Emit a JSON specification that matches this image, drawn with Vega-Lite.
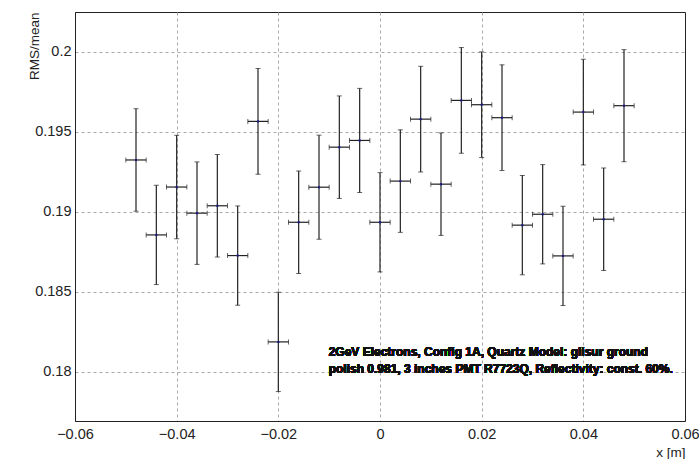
{
  "$schema": "https://vega.github.io/schema/vega-lite/v6.json",
  "width": 610,
  "height": 409,
  "autosize": {"type": "none"},
  "padding": {"left": 75, "top": 12, "right": 14, "bottom": 38},
  "background": "white",
  "config": {
    "view": {"stroke": "#222", "strokeWidth": 1},
    "font": "Liberation Sans",
    "axis": {
      "labelFont": "Liberation Sans",
      "titleFont": "Liberation Sans",
      "labelColor": "#222",
      "titleColor": "#222",
      "labelFontSize": 14.5,
      "titleFontSize": 13.5,
      "titleFontWeight": "normal",
      "domainColor": "#222",
      "ticks": false,
      "tickSize": 0,
      "gridColor": "#a8a8a8",
      "gridDash": [3, 3],
      "gridWidth": 1,
      "format": "~g",
      "labelOverlap": false
    }
  },
  "data": {
    "values": [
      {"x": -0.048, "y": 0.19324, "yerr": 0.0032, "xerr": 0.002},
      {"x": -0.044, "y": 0.18856, "yerr": 0.0031, "xerr": 0.002},
      {"x": -0.040, "y": 0.19155, "yerr": 0.00323, "xerr": 0.002},
      {"x": -0.036, "y": 0.18992, "yerr": 0.0032, "xerr": 0.002},
      {"x": -0.032, "y": 0.19038, "yerr": 0.0032, "xerr": 0.002},
      {"x": -0.028, "y": 0.18727, "yerr": 0.0031, "xerr": 0.002},
      {"x": -0.024, "y": 0.19565, "yerr": 0.0033, "xerr": 0.002},
      {"x": -0.020, "y": 0.18188, "yerr": 0.0031, "xerr": 0.002},
      {"x": -0.016, "y": 0.18935, "yerr": 0.0032, "xerr": 0.002},
      {"x": -0.012, "y": 0.19154, "yerr": 0.00325, "xerr": 0.002},
      {"x": -0.008, "y": 0.19404, "yerr": 0.0032, "xerr": 0.002},
      {"x": -0.004, "y": 0.19446, "yerr": 0.00325, "xerr": 0.002},
      {"x": 0.000, "y": 0.18935, "yerr": 0.0031, "xerr": 0.002},
      {"x": 0.004, "y": 0.19192, "yerr": 0.0032, "xerr": 0.002},
      {"x": 0.008, "y": 0.19579, "yerr": 0.0033, "xerr": 0.002},
      {"x": 0.012, "y": 0.19173, "yerr": 0.0032, "xerr": 0.002},
      {"x": 0.016, "y": 0.19696, "yerr": 0.0033, "xerr": 0.002},
      {"x": 0.020, "y": 0.19669, "yerr": 0.0033, "xerr": 0.002},
      {"x": 0.024, "y": 0.19588, "yerr": 0.0033, "xerr": 0.002},
      {"x": 0.028, "y": 0.18917, "yerr": 0.0031, "xerr": 0.002},
      {"x": 0.032, "y": 0.18985, "yerr": 0.0031, "xerr": 0.002},
      {"x": 0.036, "y": 0.18725, "yerr": 0.0031, "xerr": 0.002},
      {"x": 0.040, "y": 0.19623, "yerr": 0.0033, "xerr": 0.002},
      {"x": 0.044, "y": 0.18954, "yerr": 0.0032, "xerr": 0.002},
      {"x": 0.048, "y": 0.19663, "yerr": 0.0035, "xerr": 0.002}
    ]
  },
  "encoding": {
    "x": {
      "field": "x", "type": "quantitative",
      "scale": {"domain": [-0.06, 0.06], "nice": false, "zero": false},
      "axis": {
        "title": "x [m]",
        "values": [-0.06, -0.04, -0.02, 0, 0.02, 0.04, 0.06],
        "gridOpacity": {"condition": {"test": "abs(datum.value) > 0.059", "value": 0}, "value": 1},
        "labelPadding": 6,
        "labelFlush": false,
        "titleAnchor": "end",
        "titleAlign": "right",
        "titleX": 610,
        "titleY": 31,
        "titleBaseline": "middle"
      }
    },
    "y": {
      "field": "y", "type": "quantitative",
      "scale": {"domain": [0.17694, 0.20248], "nice": false, "zero": false},
      "axis": {
        "title": "RMS/mean",
        "values": [0.18, 0.185, 0.19, 0.195, 0.2],
        "labelPadding": 4,
        "titleAngle": 270,
        "titleAlign": "right",
        "titleBaseline": "middle",
        "titleX": -41,
        "titleY": 0
      }
    }
  },
  "layer": [
    {
      "data": {"values": [{"x": -0.04}, {"x": -0.02}, {"x": 0}, {"x": 0.02}, {"x": 0.04}]},
      "mark": {"type": "rule", "strokeWidth": 1.5, "color": "#000"},
      "encoding": {"y": {"datum": 0.17694}, "y2": {"datum": 0.17769}}
    },
    {
      "data": {"values": [
        {"x": -0.055}, {"x": -0.05}, {"x": -0.045}, {"x": -0.035}, {"x": -0.03}, {"x": -0.025}, {"x": -0.015}, {"x": -0.01}, {"x": -0.005},
        {"x": 0.005}, {"x": 0.01}, {"x": 0.015}, {"x": 0.025}, {"x": 0.03}, {"x": 0.035}, {"x": 0.045}, {"x": 0.05}, {"x": 0.055}
      ]},
      "mark": {"type": "rule", "strokeWidth": 1.5, "color": "#000"},
      "encoding": {"y": {"datum": 0.17694}, "y2": {"datum": 0.177315}}
    },
    {
      "data": {"values": [{"y": 0.18}, {"y": 0.185}, {"y": 0.19}, {"y": 0.195}, {"y": 0.2}]},
      "mark": {"type": "rule", "strokeWidth": 1.5, "color": "#000"},
      "encoding": {"x": {"datum": -0.06}, "x2": {"datum": -0.05646}}
    },
    {
      "data": {"values": [
        {"y": 0.177}, {"y": 0.178}, {"y": 0.179}, {"y": 0.181}, {"y": 0.182}, {"y": 0.183}, {"y": 0.184}, {"y": 0.186}, {"y": 0.187}, {"y": 0.188}, {"y": 0.189},
        {"y": 0.191}, {"y": 0.192}, {"y": 0.193}, {"y": 0.194}, {"y": 0.196}, {"y": 0.197}, {"y": 0.198}, {"y": 0.199}, {"y": 0.201}, {"y": 0.202}
      ]},
      "mark": {"type": "rule", "strokeWidth": 1.5, "color": "#000"},
      "encoding": {"x": {"datum": -0.06}, "x2": {"datum": -0.05823}}
    },
    {
      "mark": {"type": "errorbar", "ticks": {"size": 5, "color": "#222"}, "rule": {"strokeWidth": 1.2, "color": "#222"}},
      "encoding": {"yError": {"field": "yerr"}}
    },
    {
      "mark": {"type": "errorbar", "ticks": {"size": 5, "color": "#222"}, "rule": {"strokeWidth": 1.2, "color": "#222"}},
      "encoding": {"xError": {"field": "xerr"}}
    },
    {
      "mark": {"type": "point", "filled": true, "size": 6, "color": "#1c1c80", "opacity": 1}
    },
    {
      "mark": {"type": "text", "text": "2GeV Electrons, Config 1A, Quartz Model: glisur ground", "align": "left", "baseline": "middle", "fontSize": 12, "fontWeight": "bold", "font": "Liberation Sans", "color": "#111"},
      "encoding": {"x": {"datum": -0.0101}, "y": {"datum": 0.18127}}
    },
    {
      "mark": {"type": "text", "text": "polish 0.981, 3 inches PMT R7723Q, Reflectivity: const. 60%.", "align": "left", "baseline": "middle", "fontSize": 12, "fontWeight": "bold", "font": "Liberation Sans", "color": "#111"},
      "encoding": {"x": {"datum": -0.0101}, "y": {"datum": 0.18021}}
    }
  ]
}
